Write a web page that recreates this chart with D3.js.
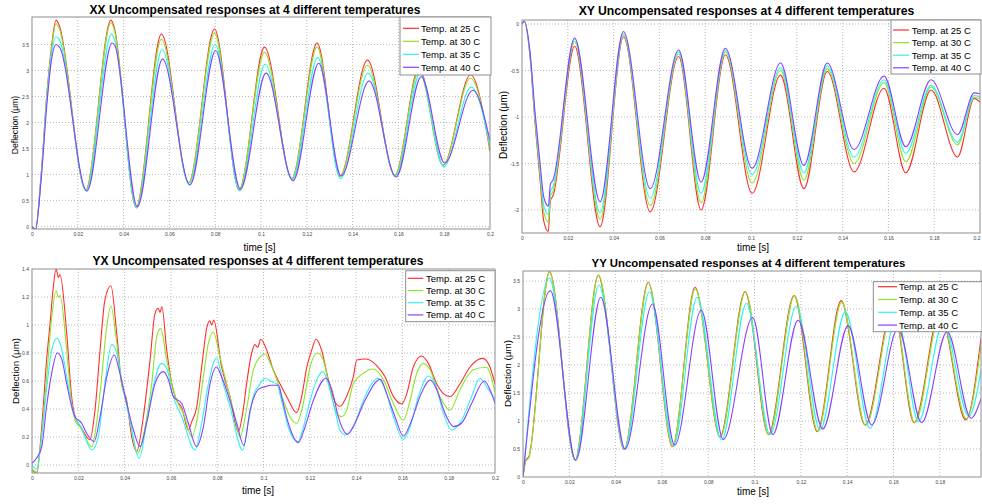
<!DOCTYPE html>
<html><head><meta charset="utf-8">
<script src="https://cdn.jsdelivr.net/npm/d3@7"></script>
<style>
body{margin:0;background:#fff}
svg{display:block}
text{font-family:Arial,"Liberation Sans",Helvetica,sans-serif}
</style>
</head><body>
<svg id="chart" width="982" height="504"></svg>
<script>
// ---------------- DATA ----------------
const seriesNames = ["Temp. at 25 C", "Temp. at 30 C", "Temp. at 35 C", "Temp. at 40 C"];
const xTicks = [0, 0.02, 0.04, 0.06, 0.08, 0.1, 0.12, 0.14, 0.16, 0.18, 0.2];
const xxYTicks = [0, 0.5, 1, 1.5, 2, 2.5, 3, 3.5];
const xyYTicks = [0, -0.5, -1, -1.5, -2];
const yxYTicks = [0, 0.2, 0.4, 0.6, 0.8, 1, 1.2, 1.4];
const yyYTicks = [0, 0.5, 1, 1.5, 2, 2.5, 3, 3.5];
const titles = ["XX Uncompensated responses at 4 different temperatures",
  "XY Uncompensated responses at 4 different temperatures",
  "YX Uncompensated responses at 4 different temperatures",
  "YY Uncompensated responses at 4 different temperatures"];

// [time (s), deflection (um)]
const xx25 = [[0,0],[0.0015,-0.06],[0.004,1.0],[0.0065,2.55],[0.0085,3.45],[0.0105,3.97],[0.0118,3.88],[0.0235,0.70],[0.0345,3.97],[0.0358,3.85],[0.0455,0.37],[0.0565,3.70],[0.0685,0.84],[0.0797,3.80],[0.0905,0.70],[0.1015,3.45],[0.1135,0.92],[0.1245,3.53],[0.1345,0.97],[0.1465,3.20],[0.1585,0.98],[0.169,3.05],[0.1795,1.18],[0.1915,2.92],[0.2,1.45]];
const xx30 = [[0,-0.02],[0.0015,-0.06],[0.004,1.0],[0.0065,2.5],[0.0085,3.4],[0.0105,3.90],[0.0118,3.82],[0.0235,0.70],[0.0345,3.92],[0.0358,3.80],[0.0455,0.37],[0.0565,3.60],[0.0685,0.84],[0.0797,3.72],[0.0905,0.72],[0.1015,3.35],[0.1135,0.92],[0.1245,3.45],[0.1345,0.96],[0.1465,3.10],[0.1585,0.98],[0.169,3.00],[0.1795,1.18],[0.1915,2.85],[0.2,1.50]];
const xx35 = [[0,-0.02],[0.0015,-0.1],[0.004,0.95],[0.0065,2.45],[0.0085,3.3],[0.0105,3.65],[0.0118,3.60],[0.0237,0.68],[0.0347,3.70],[0.036,3.60],[0.0457,0.35],[0.0568,3.40],[0.0687,0.80],[0.08,3.50],[0.0907,0.68],[0.1018,3.12],[0.1137,0.90],[0.1248,3.25],[0.1347,0.92],[0.1468,2.95],[0.1588,0.97],[0.1695,2.95],[0.1798,1.15],[0.1918,2.68],[0.2,1.55]];
const xx40 = [[0,0],[0.0015,-0.06],[0.004,0.9],[0.0065,2.35],[0.0085,3.2],[0.0105,3.50],[0.012,3.45],[0.024,0.68],[0.035,3.53],[0.0362,3.48],[0.046,0.38],[0.057,3.22],[0.069,0.80],[0.0802,3.38],[0.091,0.72],[0.1022,2.95],[0.114,0.88],[0.1252,3.14],[0.135,0.97],[0.1472,2.80],[0.159,0.95],[0.17,2.88],[0.1802,1.22],[0.1925,2.62],[0.2,1.65]];

const xy25 = [[0,0],[0.001,0.03],[0.0035,-0.35],[0.0057,-1.07],[0.0079,-1.68],[0.0095,-2.12],[0.0115,-2.23],[0.0124,-1.9],[0.0135,-1.85],[0.023,-0.24],[0.0341,-2.18],[0.0443,-0.14],[0.056,-2.02],[0.0684,-0.35],[0.0782,-2.0],[0.0888,-0.33],[0.1005,-1.82],[0.1129,-0.55],[0.1231,-1.77],[0.1333,-0.51],[0.145,-1.59],[0.1581,-0.69],[0.1676,-1.60],[0.1786,-0.71],[0.1902,-1.43],[0.1975,-0.80],[0.2,-0.84]];
const xy30 = [[0,0],[0.001,0.03],[0.0035,-0.33],[0.0057,-1.03],[0.0079,-1.62],[0.0095,-2.02],[0.0115,-2.13],[0.0124,-1.85],[0.0135,-1.8],[0.023,-0.19],[0.0341,-2.10],[0.0443,-0.12],[0.056,-1.95],[0.0684,-0.32],[0.0782,-1.92],[0.0888,-0.30],[0.1005,-1.71],[0.1129,-0.50],[0.1231,-1.68],[0.1333,-0.48],[0.145,-1.50],[0.1581,-0.63],[0.1676,-1.48],[0.1786,-0.68],[0.1902,-1.30],[0.1975,-0.79],[0.2,-0.80]];
const xy35 = [[0,0],[0.001,0.03],[0.0035,-0.32],[0.0057,-1.0],[0.0079,-1.57],[0.0095,-1.95],[0.0115,-2.05],[0.0124,-1.8],[0.0135,-1.75],[0.023,-0.16],[0.0341,-2.03],[0.0443,-0.10],[0.056,-1.87],[0.0684,-0.30],[0.0782,-1.82],[0.0888,-0.28],[0.1005,-1.62],[0.1129,-0.47],[0.1231,-1.60],[0.1333,-0.45],[0.145,-1.43],[0.1581,-0.60],[0.1676,-1.39],[0.1786,-0.66],[0.1902,-1.27],[0.1975,-0.77],[0.2,-0.78]];
const xy40 = [[0,0],[0.001,0.03],[0.0035,-0.30],[0.0057,-0.95],[0.0079,-1.5],[0.0095,-1.86],[0.0115,-1.96],[0.0124,-1.72],[0.0135,-1.68],[0.023,-0.15],[0.0341,-1.91],[0.0443,-0.08],[0.056,-1.77],[0.0684,-0.28],[0.0782,-1.70],[0.0888,-0.26],[0.1005,-1.55],[0.1129,-0.42],[0.1231,-1.52],[0.1333,-0.42],[0.145,-1.35],[0.1581,-0.56],[0.1676,-1.32],[0.1786,-0.60],[0.1902,-1.19],[0.1975,-0.74],[0.2,-0.75]];

const yx25 = [[0,-0.03],[0.002,-0.06],[0.0042,0.27],[0.0063,0.75],[0.0078,1.01],[0.0092,1.27],[0.0104,1.40],[0.0114,1.34],[0.0121,1.36],[0.015,0.94],[0.0171,0.49],[0.0186,0.345],[0.0212,0.27],[0.025,0.18],[0.0272,0.39],[0.0294,0.82],[0.0315,1.18],[0.0341,1.28],[0.0366,0.94],[0.0387,0.58],[0.0409,0.46],[0.0431,0.2],[0.0452,0.095],[0.0481,0.345],[0.051,0.75],[0.0531,1.08],[0.0545,1.12],[0.0553,1.09],[0.0561,1.13],[0.0582,0.82],[0.0604,0.58],[0.0625,0.46],[0.0647,0.41],[0.0675,0.25],[0.069,0.31],[0.0711,0.41],[0.0733,0.70],[0.0755,0.98],[0.0768,1.03],[0.0776,1.0],[0.0785,1.035],[0.0819,0.70],[0.0855,0.49],[0.0891,0.238],[0.0912,0.39],[0.0927,0.58],[0.0949,0.80],[0.0963,0.86],[0.0975,0.84],[0.0988,0.898],[0.1014,0.82],[0.1042,0.68],[0.1071,0.58],[0.11,0.49],[0.1143,0.374],[0.1165,0.49],[0.1187,0.70],[0.1208,0.82],[0.1227,0.898],[0.1251,0.82],[0.128,0.61],[0.1309,0.45],[0.133,0.42],[0.1359,0.49],[0.1388,0.63],[0.1403,0.75],[0.1443,0.757],[0.1489,0.71],[0.1525,0.63],[0.1561,0.49],[0.1597,0.436],[0.1619,0.51],[0.1647,0.70],[0.1683,0.779],[0.1712,0.726],[0.1748,0.58],[0.1777,0.51],[0.1806,0.488],[0.1849,0.58],[0.1892,0.70],[0.1947,0.762],[0.1978,0.70],[0.2,0.58]];
const yx30 = [[0,-0.03],[0.002,-0.05],[0.0042,0.22],[0.0063,0.62],[0.0085,1.05],[0.0104,1.245],[0.0114,1.20],[0.0121,1.21],[0.015,0.82],[0.0171,0.44],[0.0186,0.32],[0.0212,0.26],[0.0258,0.13],[0.0279,0.30],[0.0301,0.63],[0.0323,0.99],[0.0341,1.136],[0.0366,0.87],[0.0387,0.58],[0.0409,0.45],[0.0438,0.18],[0.0455,0.08],[0.0488,0.27],[0.0517,0.58],[0.0539,0.92],[0.0556,0.976],[0.0582,0.75],[0.0604,0.58],[0.0625,0.46],[0.0654,0.37],[0.069,0.20],[0.0718,0.37],[0.074,0.63],[0.0762,0.87],[0.0783,0.95],[0.0812,0.77],[0.0841,0.58],[0.087,0.39],[0.0898,0.20],[0.0927,0.40],[0.0956,0.68],[0.0985,0.77],[0.1007,0.793],[0.1028,0.73],[0.1057,0.61],[0.1086,0.46],[0.1114,0.345],[0.1143,0.298],[0.1172,0.44],[0.1201,0.70],[0.1233,0.80],[0.1258,0.75],[0.1287,0.54],[0.1316,0.37],[0.1337,0.345],[0.1359,0.39],[0.1388,0.58],[0.1431,0.655],[0.1474,0.686],[0.1518,0.61],[0.1561,0.44],[0.1604,0.32],[0.1633,0.46],[0.1662,0.655],[0.1691,0.726],[0.1719,0.68],[0.1762,0.49],[0.1806,0.393],[0.1849,0.54],[0.1906,0.68],[0.1963,0.698],[0.2,0.52]];
const yx35 = [[0,0.0],[0.002,-0.03],[0.0042,0.2],[0.0063,0.54],[0.0085,0.82],[0.0107,0.905],[0.0121,0.87],[0.0143,0.70],[0.0164,0.49],[0.0186,0.345],[0.0212,0.27],[0.0258,0.107],[0.0286,0.2],[0.0315,0.58],[0.0344,0.862],[0.0366,0.80],[0.0394,0.54],[0.0423,0.32],[0.0463,0.048],[0.0495,0.30],[0.0524,0.56],[0.0559,0.726],[0.0582,0.69],[0.061,0.49],[0.0647,0.345],[0.0704,0.107],[0.0733,0.30],[0.0762,0.58],[0.0797,0.766],[0.0826,0.58],[0.0855,0.42],[0.091,0.107],[0.0934,0.30],[0.0956,0.49],[0.0985,0.58],[0.1007,0.62],[0.1028,0.60],[0.1057,0.58],[0.1078,0.46],[0.1107,0.27],[0.115,0.167],[0.1172,0.27],[0.1201,0.46],[0.123,0.61],[0.1256,0.667],[0.128,0.58],[0.1309,0.39],[0.133,0.25],[0.1356,0.214],[0.1388,0.27],[0.1431,0.46],[0.1467,0.58],[0.1496,0.62],[0.1525,0.54],[0.1561,0.345],[0.1604,0.183],[0.1633,0.27],[0.1669,0.49],[0.1712,0.636],[0.1741,0.58],[0.1777,0.37],[0.1813,0.25],[0.1856,0.32],[0.1899,0.49],[0.1935,0.62],[0.1971,0.54],[0.2,0.47]];
const yx40 = [[0,0.012],[0.002,0.05],[0.0042,0.13],[0.0063,0.42],[0.0085,0.655],[0.0109,0.80],[0.0128,0.76],[0.015,0.58],[0.0171,0.42],[0.0186,0.345],[0.0214,0.30],[0.0236,0.226],[0.0268,0.167],[0.0294,0.345],[0.0323,0.63],[0.0355,0.786],[0.038,0.655],[0.0409,0.44],[0.0438,0.25],[0.0467,0.13],[0.0495,0.30],[0.0531,0.58],[0.0567,0.667],[0.0589,0.61],[0.061,0.49],[0.0647,0.44],[0.0675,0.30],[0.0711,0.13],[0.074,0.27],[0.0769,0.58],[0.0797,0.70],[0.0819,0.63],[0.0855,0.46],[0.0884,0.30],[0.0915,0.14],[0.0942,0.39],[0.0978,0.54],[0.1007,0.56],[0.1036,0.57],[0.1065,0.57],[0.1078,0.49],[0.1107,0.30],[0.115,0.16],[0.1179,0.27],[0.1215,0.46],[0.127,0.62],[0.1295,0.54],[0.1323,0.345],[0.1362,0.22],[0.1395,0.30],[0.1438,0.46],[0.1505,0.612],[0.1532,0.51],[0.1568,0.345],[0.1604,0.207],[0.164,0.32],[0.1676,0.49],[0.1721,0.607],[0.1748,0.54],[0.1784,0.37],[0.1821,0.274],[0.1856,0.30],[0.1899,0.44],[0.1954,0.60],[0.1985,0.51],[0.2,0.44]];

const yy25 = [[0,0],[0.0012,0.3],[0.0025,0.36],[0.0114,3.67],[0.0225,0.30],[0.0325,3.60],[0.0437,0.49],[0.0541,3.48],[0.0646,0.54],[0.0743,3.39],[0.0851,0.72],[0.0959,3.31],[0.106,0.76],[0.1171,3.24],[0.1271,0.81],[0.1374,3.15],[0.1477,0.93],[0.1598,3.05],[0.1689,0.97],[0.1801,2.95],[0.1912,1.02],[0.1978,2.48]];
const yy30 = [[0,0],[0.0012,0.28],[0.0025,0.34],[0.0114,3.66],[0.0225,0.30],[0.0326,3.61],[0.0437,0.49],[0.0542,3.47],[0.0646,0.55],[0.0744,3.36],[0.0852,0.71],[0.0961,3.31],[0.1062,0.75],[0.1173,3.24],[0.1273,0.82],[0.1376,3.12],[0.148,0.92],[0.16,3.02],[0.1692,0.97],[0.1803,2.92],[0.1915,1.04],[0.1978,2.35]];
const yy35 = [[0,0],[0.0114,3.55],[0.0226,0.30],[0.0328,3.43],[0.0439,0.49],[0.0546,3.31],[0.065,0.56],[0.0752,3.21],[0.0858,0.66],[0.0965,3.10],[0.1067,0.76],[0.1181,3.05],[0.1283,0.84],[0.1392,2.95],[0.1499,0.87],[0.1615,2.85],[0.1708,0.99],[0.1815,2.75],[0.1926,1.08],[0.1978,1.9]];
const yy40 = [[0,0],[0.0118,3.33],[0.0228,0.30],[0.0336,3.21],[0.0441,0.50],[0.0559,3.09],[0.0655,0.57],[0.077,2.98],[0.0865,0.67],[0.0992,2.85],[0.1079,0.76],[0.1188,2.80],[0.1295,0.86],[0.1404,2.70],[0.1506,0.93],[0.162,2.65],[0.1722,0.97],[0.1832,2.60],[0.1935,1.05],[0.1978,1.4]];

// ---------------- STYLE / LAYOUT ----------------
const colors = ["#ff2e2e", "#8ce628", "#2ef2f2", "#8a40ff"];

const panels = [
  {key:"xx", title:titles[0], series:[xx25,xx30,xx35,xx40], yTicks:xxYTicks,
   xDom:[0,0.2], yDom:[-0.05,4.03], left:32, right:490, top:17, bottom:229,
   titleX:255, titleY:13.5, titleSize:12, xlabX:259.5, xlabY:250.5, ylabX:15, ylabY:125, ylabSize:8.6,
   leg:{x:400, y:17, w:91, h:58, row0:28.3, step:13, lx0:403, lx1:419, tx:421}},
  {key:"xy", title:titles[1], series:[xy25,xy30,xy35,xy40], yTicks:xyYTicks,
   xDom:[0,0.2], yDom:[-2.247,0.043], left:522, right:980, top:20, bottom:233,
   titleX:746.5, titleY:15, titleSize:12.2, xlabX:753, xlabY:250.5, ylabX:503, ylabY:125, ylabSize:10,
   leg:{x:891, y:20, w:90, h:54, row0:30, step:12.6, lx0:893, lx1:909, tx:911.7}},
  {key:"yx", title:titles[2], series:[yx25,yx30,yx35,yx40], yTicks:yxYTicks,
   xDom:[0,0.2], yDom:[-0.057,1.4], left:32, right:495, top:269, bottom:473,
   titleX:258, titleY:265, titleSize:12, xlabX:258, xlabY:494, ylabX:15, ylabY:371, ylabSize:9.7,
   leg:{x:405.7, y:270.7, w:89.3, h:51, row0:278.3, step:12.2, lx0:407.7, lx1:423.3, tx:426}},
  {key:"yy", title:titles[3], series:[yy25,yy30,yy35,yy40], yTicks:yyYTicks,
   xDom:[0,0.1978], yDom:[0,3.68], left:523, right:981, top:271, bottom:477,
   titleX:748.5, titleY:266.5, titleSize:11.4, xlabX:753, xlabY:495, ylabX:507, ylabY:373.5, ylabSize:9.9,
   leg:{x:873.3, y:281.7, w:108.7, h:50, row0:286.7, step:12.8, lx0:878, lx1:897, tx:899}}
];

const svg = d3.select("#chart");
svg.append("rect").attr("width",982).attr("height",504).attr("fill","#fff");
const defs = svg.append("defs");
const fmt = v => String(+v.toFixed(3));

panels.forEach(p => {
  const g = svg.append("g");
  const x = d3.scaleLinear().domain(p.xDom).range([p.left, p.right]);
  const y = d3.scaleLinear().domain(p.yDom).range([p.bottom, p.top]);
  const xt = xTicks.filter(t => t <= p.xDom[1] + 1e-9);

  // grid
  g.append("g").selectAll("line").data(xt.filter(t => t > p.xDom[0] && t < p.xDom[1] - 1e-9)).join("line")
    .attr("x1", d => x(d)).attr("x2", d => x(d)).attr("y1", p.top).attr("y2", p.bottom)
    .attr("stroke", "#a8a8a8").attr("stroke-width", 0.8).attr("stroke-dasharray", "1,2");
  g.append("g").selectAll("line").data(p.yTicks.filter(t => y(t) > p.top + 0.5 && y(t) < p.bottom - 0.5)).join("line")
    .attr("y1", d => y(d)).attr("y2", d => y(d)).attr("x1", p.left).attr("x2", p.right)
    .attr("stroke", "#a8a8a8").attr("stroke-width", 0.8).attr("stroke-dasharray", "1,2");

  // clip
  const cid = "clip-" + p.key;
  defs.append("clipPath").attr("id", cid).append("rect")
    .attr("x", p.left).attr("y", p.top).attr("width", p.right - p.left).attr("height", p.bottom - p.top);

  const line = d3.line().x(d => x(d[0])).y(d => y(d[1])).curve(d3.curveMonotoneX);
  const lg = g.append("g").attr("clip-path", `url(#${cid})`);
  p.series.forEach((s, i) => {
    lg.append("path").attr("d", line(s)).attr("fill", "none")
      .attr("stroke", colors[i]).attr("stroke-width", 1.1).attr("stroke-linejoin", "round");
  });

  // frame
  g.append("rect").attr("x", p.left).attr("y", p.top).attr("width", p.right - p.left).attr("height", p.bottom - p.top)
    .attr("fill", "none").attr("stroke", "#8e8e8e").attr("stroke-width", 1);

  // axes tick labels
  const ax = g.append("g").attr("transform", `translate(0,${p.bottom})`)
    .call(d3.axisBottom(x).tickValues(xt).tickSize(0).tickPadding(3).tickFormat(fmt));
  const ay = g.append("g").attr("transform", `translate(${p.left},0)`)
    .call(d3.axisLeft(y).tickValues(p.yTicks).tickSize(0).tickPadding(3).tickFormat(fmt));
  [ax, ay].forEach(a => {
    a.select(".domain").remove();
    a.attr("font-family", null).attr("font-size", null);
    a.selectAll("text").attr("font-size", 5).attr("fill", "#444");
  });
  // keep the last x label inside the picture
  ax.selectAll(".tick text").filter(d => x(d) > 975).attr("text-anchor", "end");

  // title & labels
  g.append("text").attr("x", p.titleX).attr("y", p.titleY).attr("text-anchor", "middle")
    .attr("font-size", p.titleSize).attr("font-weight", "bold").attr("fill", "#000").text(p.title);
  g.append("text").attr("x", p.xlabX).attr("y", p.xlabY).attr("text-anchor", "middle")
    .attr("font-size", 10).attr("fill", "#000").text("time [s]");
  g.append("text").attr("transform", `translate(${p.ylabX},${p.ylabY}) rotate(-90)`)
    .attr("text-anchor", "middle").attr("dominant-baseline", "central")
    .attr("font-size", p.ylabSize).attr("fill", "#000").text("Deflection (\u03bcm)");

  // legend
  const L = p.leg;
  const leg = g.append("g");
  leg.append("rect").attr("x", L.x).attr("y", L.y).attr("width", L.w).attr("height", L.h)
    .attr("fill", "#fff").attr("stroke", "#8e8e8e").attr("stroke-width", 1);
  seriesNames.forEach((nm, i) => {
    const cy = L.row0 + i * L.step;
    leg.append("line").attr("x1", L.lx0).attr("x2", L.lx1).attr("y1", cy).attr("y2", cy)
      .attr("stroke", colors[i]).attr("stroke-width", 1.2);
    leg.append("text").attr("x", L.tx).attr("y", cy).attr("dominant-baseline", "central")
      .attr("font-size", 9.5).attr("fill", "#000").text(nm);
  });
});
</script>
</body></html>
